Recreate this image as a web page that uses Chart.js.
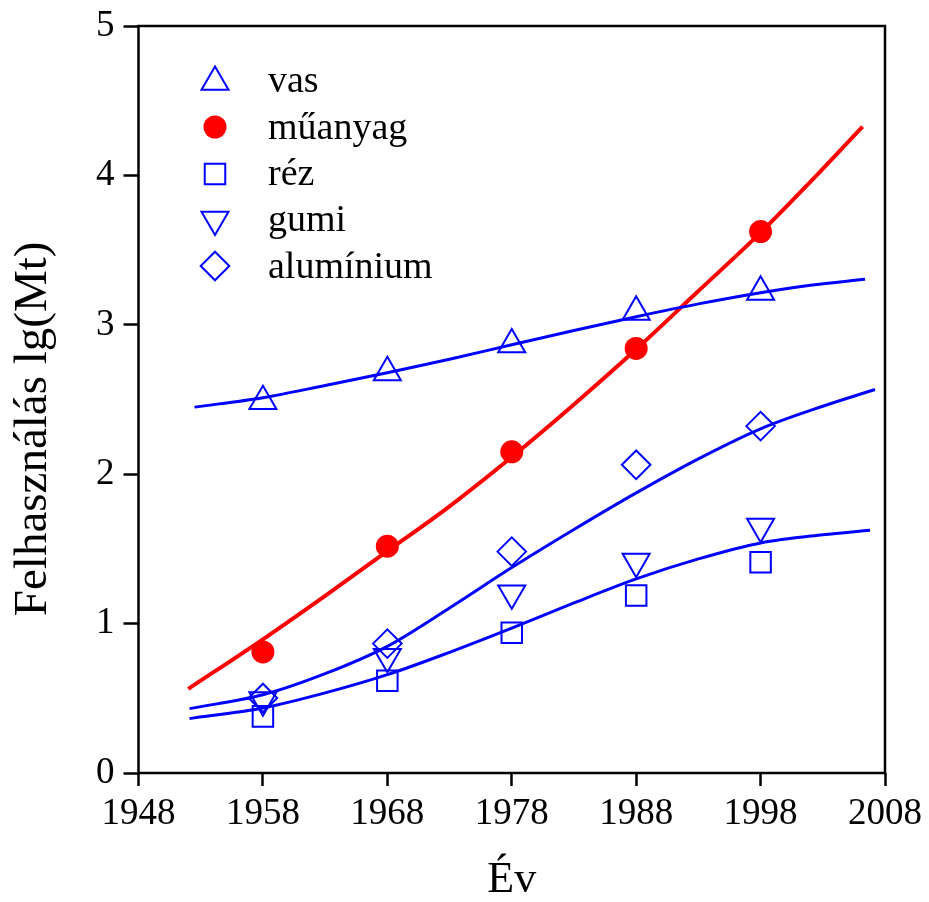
<!DOCTYPE html>
<html><head><meta charset="utf-8">
<script src="https://cdn.jsdelivr.net/npm/chart.js@4.4.1/dist/chart.umd.min.js"></script>
<style>html,body{margin:0;padding:0;background:#fff;overflow:hidden;}</style>
</head><body>
<canvas id="c" width="929" height="902"></canvas>
<script>
// ---- measured data (lg of Mt) ----
const years = [1958, 1968, 1978, 1988, 1998];
const vas = [2.488, 2.681, 2.868, 3.086, 3.220];
const muanyag = [0.810, 1.518, 2.150, 2.842, 3.624];
const rez = [0.379, 0.618, 0.938, 1.188, 1.411];
const gumi = [0.488, 0.778, 1.203, 1.415, 1.649];
const aluminium = [0.502, 0.866, 1.482, 2.063, 2.322];

// ---- fitted curves ----
const vasFitX = [1952.5, 1958, 1963, 1968, 1973, 1978, 1983, 1988, 1993, 1998, 2002, 2006.4];
const vasFitY = [2.449, 2.512, 2.594, 2.679, 2.770, 2.866, 2.962, 3.054, 3.140, 3.215, 3.265, 3.305];
const muanyagFitX = [1952.0, 1958, 1963, 1968, 1973, 1978, 1983, 1988, 1993, 1998, 2002, 2006.2];
const muanyagFitY = [0.563, 0.895, 1.186, 1.485, 1.785, 2.115, 2.467, 2.836, 3.226, 3.617, 3.957, 4.327];
const aluFitX = [1952.1, 1958, 1963, 1968, 1973, 1978, 1983, 1988, 1993, 1998, 2003, 2007.2];
const aluFitY = [0.431, 0.524, 0.665, 0.848, 1.105, 1.375, 1.630, 1.875, 2.103, 2.304, 2.455, 2.567];
const lowFitX = [1952.1, 1958, 1963, 1968, 1973, 1978, 1983, 1988, 1993, 1998, 2003, 2006.8];
const lowFitY = [0.364, 0.435, 0.536, 0.658, 0.808, 0.970, 1.138, 1.299, 1.433, 1.540, 1.595, 1.625];

const xTicks = [1948, 1958, 1968, 1978, 1988, 1998, 2008];
const yTicks = [0, 1, 2, 3, 4, 5];
const labels = ['vas', 'műanyag', 'réz', 'gumi', 'alumínium'];

const BLUE = '#0000ff', RED = '#ff0000';
const FONT = "'Liberation Serif','Times New Roman',serif";

const pts = (xs, ys) => xs.map((x, i) => ({x, y: ys[i]}));

function markerSet(label, ys, style, color, filled, radius, rotation) {
  return {
    label, data: pts(years, ys), showLine: false,
    pointStyle: style, pointRadius: radius, pointHoverRadius: radius,
    pointRotation: rotation || 0,
    borderColor: color, pointBorderColor: color,
    backgroundColor: filled ? color : 'rgba(0,0,0,0)',
    pointBackgroundColor: filled ? color : 'rgba(0,0,0,0)',
    pointBorderWidth: filled ? 0 : 2, clip: false, isMarker: true
  };
}
function curveSet(xs, ys, color, width) {
  return {
    label: '', data: pts(xs, ys), showLine: true, pointRadius: 0, pointHoverRadius: 0,
    borderColor: color, borderWidth: width, cubicInterpolationMode: 'monotone',
    fill: false, clip: false
  };
}

const datasets = [
  markerSet(labels[0], vas, 'triangle', BLUE, false, 15.6, 0),
  markerSet(labels[1], muanyag, 'circle', RED, true, 11.5, 0),
  markerSet(labels[2], rez, 'rect', BLUE, false, 14.5, 0),
  markerSet(labels[3], gumi, 'triangle', BLUE, false, 15.6, 180),
  markerSet(labels[4], aluminium, 'rectRot', BLUE, false, 14.3, 0),
  curveSet(vasFitX, vasFitY, BLUE, 3),
  curveSet(muanyagFitX, muanyagFitY, RED, 4),
  curveSet(aluFitX, aluFitY, BLUE, 3),
  curveSet(lowFitX, lowFitY, BLUE, 3)
];

const framePlugin = {
  id: 'frame',
  afterDatasetsDraw(chart) {
    const {ctx, chartArea: a} = chart;
    ctx.save();
    ctx.strokeStyle = '#000'; ctx.lineWidth = 2.5;
    ctx.strokeRect(a.left, a.top, a.right - a.left, a.bottom - a.top);
    ctx.restore();
  }
};

function drawMarker(ctx, style, r, rot, x, y) {
  ctx.beginPath();
  if (style === 'circle') {
    ctx.arc(x, y, r, 0, Math.PI * 2);
  } else if (style === 'triangle') {
    let rad = rot * Math.PI / 180;
    ctx.moveTo(x + Math.sin(rad) * r, y - Math.cos(rad) * r);
    rad += 2 * Math.PI / 3;
    ctx.lineTo(x + Math.sin(rad) * r, y - Math.cos(rad) * r);
    rad += 2 * Math.PI / 3;
    ctx.lineTo(x + Math.sin(rad) * r, y - Math.cos(rad) * r);
    ctx.closePath();
  } else if (style === 'rect') {
    const s = Math.SQRT1_2 * r;
    ctx.rect(x - s, y - s, 2 * s, 2 * s);
  } else if (style === 'rectRot') {
    ctx.moveTo(x - r, y); ctx.lineTo(x, y - r); ctx.lineTo(x + r, y); ctx.lineTo(x, y + r);
    ctx.closePath();
  }
}

const legendPlugin = {
  id: 'innerLegend',
  afterDraw(chart) {
    const {ctx} = chart;
    const markerX = 215, textX = 268;
    const rowY = [82, 127, 174, 219.5, 266];
    const baseY = [92, 139, 185, 231, 278];
    ctx.save();
    chart.data.datasets.filter(d => d.isMarker).forEach((d, i) => {
      drawMarker(ctx, d.pointStyle, d.pointRadius, d.pointRotation, markerX, rowY[i]);
      if (d.pointBorderWidth === 0) {
        ctx.fillStyle = d.pointBackgroundColor; ctx.fill();
      } else {
        ctx.strokeStyle = d.pointBorderColor; ctx.lineWidth = d.pointBorderWidth; ctx.stroke();
      }
      ctx.fillStyle = '#000';
      ctx.font = '38px ' + FONT;
      ctx.textAlign = 'left'; ctx.textBaseline = 'alphabetic';
      ctx.fillText(d.label, textX, baseY[i]);
    });
    ctx.restore();
  }
};

new Chart(document.getElementById('c'), {
  type: 'scatter',
  data: {datasets},
  options: {
    responsive: false, animation: false, devicePixelRatio: 1,
    layout: {padding: {top: 26, right: 44, bottom: 0, left: 0}},
    plugins: {legend: {display: false}, tooltip: {enabled: false}},
    scales: {
      x: {
        type: 'linear', min: xTicks[0], max: xTicks[xTicks.length - 1],
        afterBuildTicks: s => { s.ticks = xTicks.map(v => ({value: v})); },
        ticks: {color: '#000', font: {family: FONT, size: 37}, padding: 6, maxRotation: 0,
                callback: v => String(v)},
        grid: {display: true, drawOnChartArea: false, drawTicks: true, tickLength: 13,
               tickWidth: 2.5, tickColor: '#000'},
        border: {display: false},
        title: {display: true, text: 'Év', color: '#000',
                font: {family: FONT, size: 44, lineHeight: 1}, padding: {top: 0, bottom: 0}},
        afterFit: s => { s.height = 129; s.paddingLeft = 0; s.paddingRight = 0; }
      },
      y: {
        type: 'linear', min: yTicks[0], max: yTicks[yTicks.length - 1],
        afterBuildTicks: s => { s.ticks = yTicks.map(v => ({value: v})); },
        ticks: {color: '#000', font: {family: FONT, size: 37}, padding: 9,
                callback: v => String(v)},
        grid: {display: true, drawOnChartArea: false, drawTicks: true, tickLength: 15,
               tickWidth: 2.5, tickColor: '#000'},
        border: {display: false},
        title: {display: true, text: 'Felhasználás lg(Mt)' + '\u00a0'.repeat(5), color: '#000',
                font: {family: FONT, size: 47}, padding: {top: 5, bottom: 0}},
        afterFit: s => { s.width = 138.5; s.paddingTop = 0; s.paddingBottom = 0; }
      }
    }
  },
  plugins: [framePlugin, legendPlugin]
});
</script>
</body></html>
